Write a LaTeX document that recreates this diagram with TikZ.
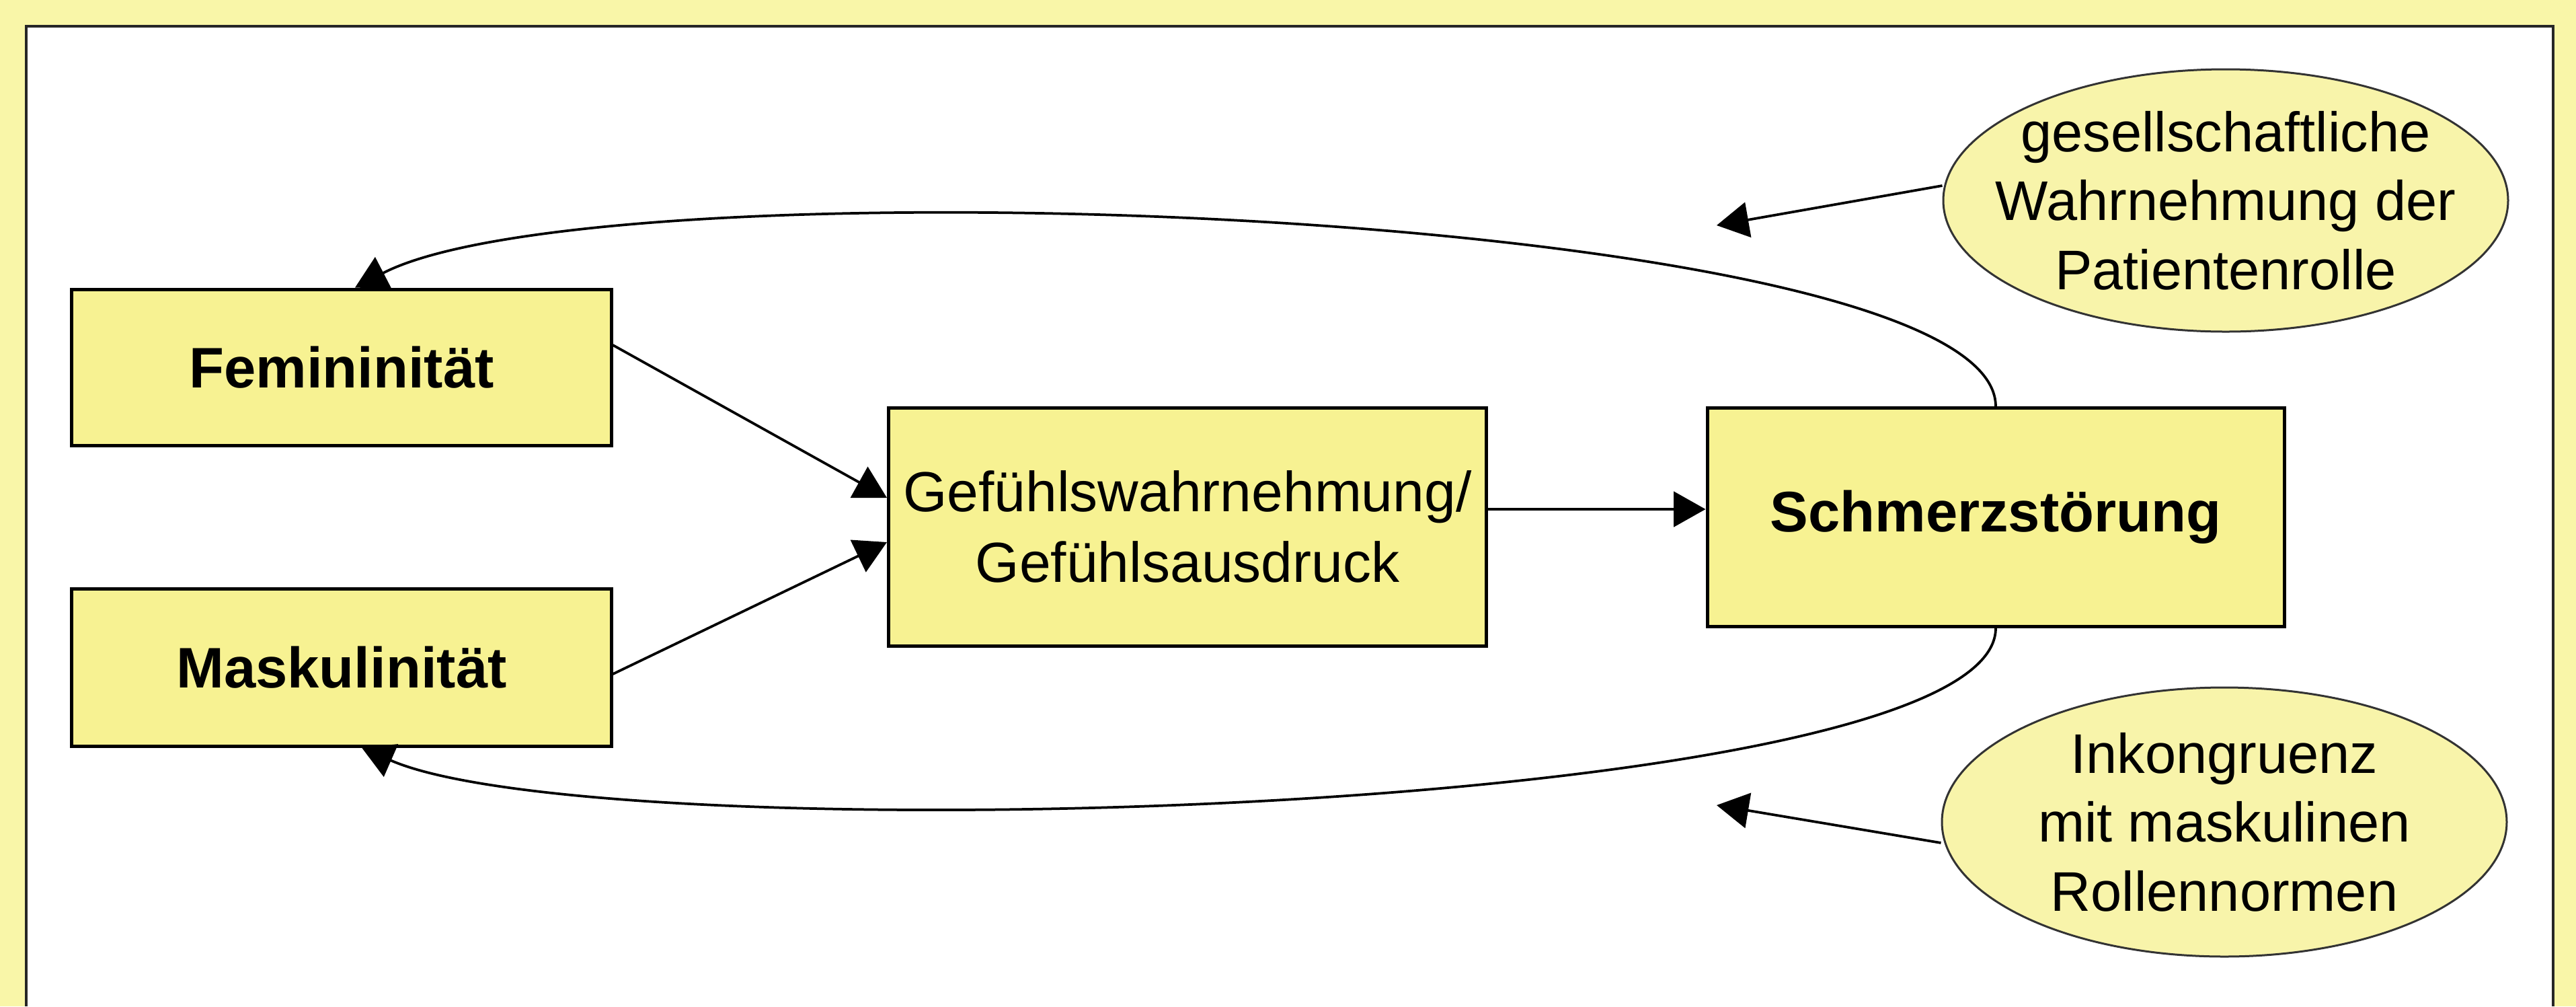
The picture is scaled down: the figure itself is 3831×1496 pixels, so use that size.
\documentclass[tikz,border=0pt]{standalone}
\usepackage{fontspec}
\setmainfont{Liberation Sans}
\usetikzlibrary{arrows.meta,shapes.geometric}
\definecolor{bgyellow}{RGB}{249,246,168}
\definecolor{boxyellow}{RGB}{247,242,146}
\definecolor{ellyellow}{RGB}{248,244,170}
\begin{document}
\begin{tikzpicture}[x=0.2pt,y=-0.2pt,
  boxnode/.style={draw=black, line width=1pt, fill=boxyellow, inner sep=0pt, align=center},
  ellnode/.style={ellipse, draw=black!80, line width=0.6pt, fill=ellyellow, inner xsep=-40pt, inner ysep=-20pt, align=center, minimum width=168pt, minimum height=78pt, font=\fontsize{16.6pt}{20.5pt}\selectfont},
  arr/.style={line width=0.75pt, -{Triangle[length=9.5pt,width=10.5pt]}},
  boldtext/.style={font=\fontsize{17pt}{20pt}\selectfont\bfseries},
  regtext/.style={font=\fontsize{16.8pt}{21pt}\selectfont}]
\useasboundingbox (0,0) rectangle (3831,1496);
\fill[bgyellow] (0,0) rectangle (3831,1496);
\fill[white] (39,39) rectangle (3797,1496);
\draw[line width=0.7pt, black!85] (39,1496) -- (39,39) -- (3797,39) -- (3797,1496);

\node[boxnode, boldtext, minimum width=160.4pt, minimum height=46.4pt] (fem) at (508,546) {Femininität};
\node[boxnode, boldtext, minimum width=160.4pt, minimum height=46.8pt] (mask) at (508,992) {Maskulinität};
\node[boxnode, regtext, minimum width=177.8pt, minimum height=70.8pt] (gef) at (1766,783) {Gefühlswahrnehmung/\\Gefühlsausdruck};
\node[boxnode, boldtext, minimum width=171.6pt, minimum height=65pt] (schm) at (2968,769) {Schmerzstörung};
\node[ellnode] (e1) at (3310,298) {gesellschaftliche\\Wahrnehmung der\\Patientenrolle};
\node[ellnode, minimum height=80pt] (e2) at (3308,1222) {Inkongruenz\\mit maskulinen\\Rollennormen};

\draw[arr] ([yshift=6.6pt]fem.east) -- ([yshift=8.6pt]gef.west);
\draw[arr] ([yshift=-2pt]mask.east) -- ([yshift=-4.6pt]gef.west);
\draw[arr] ([yshift=5.2pt]gef.east) -- ([yshift=5.2pt]gef.east -| schm.west);

\draw[arr] (schm.north) .. controls (2967,310) and (900,235) .. ([xshift=4pt]fem.north);
\draw[arr] (schm.south) .. controls (2967,1215) and (900,1270) .. ([xshift=6pt]mask.south);

\coordinate (t1) at (2553,335);
\coordinate (t2) at (2553,1197);
\draw[arr] ([yshift=4.4pt]e1.west) -- (t1);
\draw[arr] ([yshift=-6.2pt]e2.west) -- (t2);
\end{tikzpicture}
\end{document}
